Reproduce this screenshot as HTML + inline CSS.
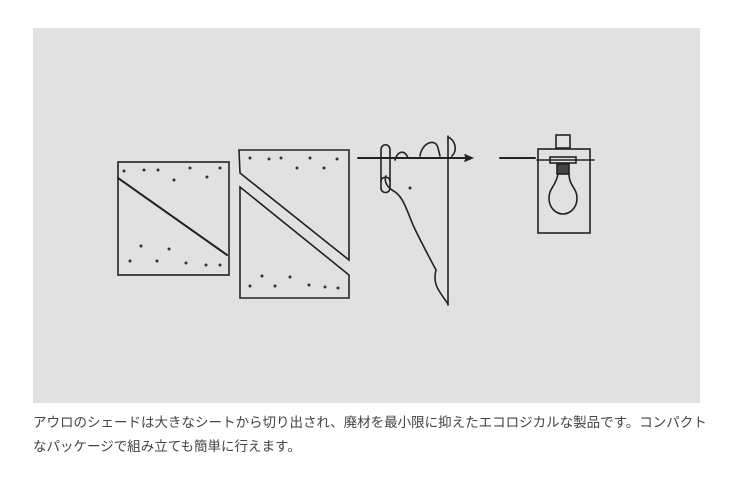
<!DOCTYPE html>
<html><head><meta charset="utf-8"><style>
body{margin:0;background:#fff;width:733px;height:492px;overflow:hidden}
.box{position:absolute;left:33px;top:28px;width:667px;height:375px;background:#e1e1e1}
p{position:absolute;left:33px;top:411px;margin:0;width:680px;font:13.5px/24px "Liberation Sans","Noto Sans CJK JP",sans-serif;color:#444}
</style></head><body>
<div class="box"></div>
<svg style="position:absolute;left:0;top:0" width="733" height="492" fill="none" stroke="#222" stroke-width="1.6" stroke-linecap="round">
<rect x="118" y="162" width="111" height="113"/>
<line x1="118" y1="178" x2="227" y2="255" stroke-width="2"/>
<path d="M239 150 L349 150 L349 260 L240 173 Z"/>
<path d="M240 187 L349 275 L349 298 L240 298 Z"/>
<path d="M448 136 L448 305"/>
<path d="M448 304 C440 292 432 285 436 270 C428 255 420 240 413 225 C405 205 402 195 392 190 C386 186 384 180 386 176"/>
<path d="M381 150 C381 143 390 143 390 150 L390 188 C390 194 381 194 381 188 Z"/>
<path d="M381 181 C381 176 390 176 390 181"/>
<path d="M395 160 C398 150 405 150 408 158 M420 156 C422 142 436 138 438 148 L440 156 M452 156 C458 150 455 140 448 137"/>
<line x1="358" y1="158" x2="470" y2="158" stroke-width="2"/>
<path d="M465 155 L472 158 L465 161" fill="#222"/>
<line x1="500" y1="158" x2="535" y2="158" stroke-width="2"/>
<rect x="538" y="149" width="52" height="84"/>
<line x1="537" y1="160" x2="594" y2="160"/>
<rect x="556" y="135" width="14" height="13"/>
<rect x="550" y="157" width="26" height="6"/>
<rect x="557" y="164" width="12" height="10" fill="#444"/>
<path d="M558 174 C556 186 549 188 549 198 C549 209 557 214 563 214 C569 214 577 209 577 198 C577 188 569 186 569 174"/>
<g fill="#333" stroke="none">
<circle cx="124" cy="171" r="1.5"/><circle cx="144" cy="170" r="1.5"/><circle cx="158" cy="170" r="1.5"/><circle cx="190" cy="168" r="1.5"/><circle cx="220" cy="168" r="1.5"/><circle cx="174" cy="180" r="1.5"/><circle cx="207" cy="177" r="1.5"/>
<circle cx="141" cy="246" r="1.5"/><circle cx="169" cy="249" r="1.5"/><circle cx="130" cy="261" r="1.5"/><circle cx="157" cy="261" r="1.5"/><circle cx="186" cy="263" r="1.5"/><circle cx="206" cy="265" r="1.5"/><circle cx="220" cy="265" r="1.5"/>
<circle cx="250" cy="158" r="1.5"/><circle cx="269" cy="159" r="1.5"/><circle cx="281" cy="158" r="1.5"/><circle cx="310" cy="158" r="1.5"/><circle cx="337" cy="159" r="1.5"/><circle cx="297" cy="168" r="1.5"/><circle cx="324" cy="168" r="1.5"/>
<circle cx="262" cy="276" r="1.5"/><circle cx="290" cy="277" r="1.5"/><circle cx="250" cy="286" r="1.5"/><circle cx="275" cy="286" r="1.5"/><circle cx="309" cy="285" r="1.5"/><circle cx="325" cy="287" r="1.5"/><circle cx="338" cy="288" r="1.5"/>
<circle cx="410" cy="188" r="1.5"/>
</g>
</svg>
<p>アウロのシェードは大きなシートから切り出され、廃材を最小限に抑えたエコロジカルな製品です。コンパクトなパッケージで組み立ても簡単に行えます。</p>
</body></html>
